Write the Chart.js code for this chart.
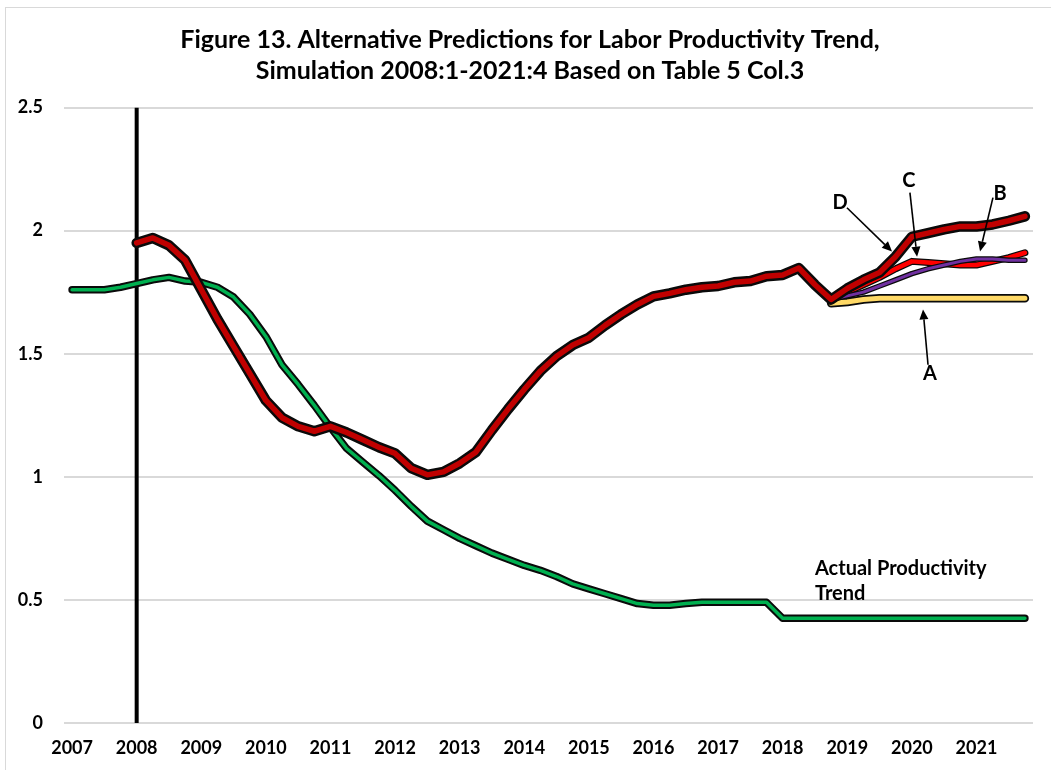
<!DOCTYPE html>
<html><head><meta charset="utf-8">
<script src="https://cdn.jsdelivr.net/npm/chart.js@4.4.1/dist/chart.umd.min.js"></script>
<style>
html,body{margin:0;padding:0;background:#fff;}
#wrap{position:relative;width:1051px;height:770px;overflow:hidden;background:#fff;}
#frame{position:absolute;left:5px;top:7px;width:1100px;height:800px;border:1px solid #d9d9d9;box-sizing:border-box;pointer-events:none;}
canvas{position:absolute;left:0;top:0;}
</style></head><body>
<div id="wrap"><canvas id="c" width="1051" height="770"></canvas><div id="frame"></div></div>
<script>
// ---------- DATA ----------
const years = [2007,2008,2009,2010,2011,2012,2013,2014,2015,2016,2017,2018,2019,2020,2021];
const quarters = [1,2,3,4];
const categories = years.flatMap(y => quarters.map(q => y + ':' + q));
const yTicks = [0, 0.5, 1, 1.5, 2, 2.5];

const titleLines = [
  'Figure 13. Alternative Predictions for Labor Productivity Trend,',
  'Simulation 2008:1-2021:4 Based on Table 5 Col.3'
];

// Actual productivity trend (green), 2007:1 - 2021:4
const actualTrend = [
  1.76, 1.76, 1.76, 1.77,
  1.785, 1.80, 1.81, 1.795,
  1.79, 1.77, 1.73, 1.66,
  1.57, 1.455, 1.375, 1.29,
  1.20, 1.115, 1.06, 1.005,
  0.945, 0.88, 0.82, 0.785,
  0.75, 0.72, 0.69, 0.665,
  0.64, 0.62, 0.595, 0.565,
  0.545, 0.525, 0.505, 0.485,
  0.478, 0.478, 0.485, 0.49,
  0.49, 0.49, 0.49, 0.49,
  0.425, 0.425, 0.425, 0.425,
  0.425, 0.425, 0.425, 0.425,
  0.425, 0.425, 0.425, 0.425,
  0.425, 0.425, 0.425, 0.425
];

// Simulation (thick red), prediction D after 2018:4
const simD = [
  null, null, null, null,
  1.95, 1.97, 1.94, 1.88,
  1.76, 1.64, 1.53, 1.42,
  1.31, 1.24, 1.205, 1.185,
  1.205, 1.18, 1.15, 1.12,
  1.095, 1.035, 1.008, 1.02,
  1.055, 1.10, 1.19, 1.275,
  1.355, 1.43, 1.49, 1.535,
  1.565, 1.615, 1.66, 1.70,
  1.733, 1.745, 1.76, 1.77,
  1.775, 1.79, 1.795, 1.815,
  1.82, 1.848, 1.78, 1.72,
  1.765, 1.80, 1.83, 1.895,
  1.975, 1.99, 2.005, 2.017,
  2.017, 2.025, 2.04, 2.058
];

const simC = [
  null,null,null,null, null,null,null,null, null,null,null,null,
  null,null,null,null, null,null,null,null, null,null,null,null,
  null,null,null,null, null,null,null,null, null,null,null,null,
  null,null,null,null, null,null,null,null, null,null,null, 1.72,
  1.75, 1.78, 1.81, 1.845,
  1.875, 1.87, 1.865, 1.86,
  1.86, 1.875, 1.89, 1.91
];

const simB = [
  null,null,null,null, null,null,null,null, null,null,null,null,
  null,null,null,null, null,null,null,null, null,null,null,null,
  null,null,null,null, null,null,null,null, null,null,null,null,
  null,null,null,null, null,null,null,null, null,null,null, 1.72,
  1.735, 1.75, 1.775, 1.80,
  1.825, 1.845, 1.86, 1.875,
  1.885, 1.885, 1.88, 1.88
];

const simA = [
  null,null,null,null, null,null,null,null, null,null,null,null,
  null,null,null,null, null,null,null,null, null,null,null,null,
  null,null,null,null, null,null,null,null, null,null,null,null,
  null,null,null,null, null,null,null,null, null,null,null, 1.705,
  1.71, 1.72, 1.725, 1.725,
  1.725, 1.725, 1.725, 1.725,
  1.725, 1.725, 1.725, 1.725
];

const breakCategory = '2008:1';
const breakRange = [0, 2.5];

// ---------- ANNOTATIONS (data coordinates: category index, value) ----------
const arrowNotes = [
  { text: 'A', at: [53.12, 1.42],  from: [53.0, 1.455], to: [52.69, 1.68] },
  { text: 'B', at: [57.46, 2.150], from: [57.02, 2.134], to: [56.22, 1.915] },
  { text: 'C', at: [51.82, 2.203], from: [51.88, 2.154], to: [52.32, 1.894] },
  { text: 'D', at: [47.55, 2.114], from: [47.98, 2.093], to: [50.77, 1.915] }
];
const trendNote = { lines: ['Actual Productivity', 'Trend'], at: [46.0, 0.626], lineGap: 0.102 };

const FONT = 'Lato, Calibri, "Open Sans", sans-serif';

function outlined(label, data, color, width, outlineWidth, order, join) {
  const base = { data, pointRadius: 0, pointHoverRadius: 0, tension: 0, spanGaps: false,
                 borderJoinStyle: join || 'round', borderCapStyle: 'round', fill: false };
  return [
    Object.assign({}, base, { label: label + ' outline', borderColor: '#0a0a0a', borderWidth: outlineWidth, order: order + 1 }),
    Object.assign({}, base, { label, borderColor: color, borderWidth: width, order })
  ];
}

const notesPlugin = {
  id: 'notes',
  afterLayout(chart) {
    // center the title on the chart frame (as in the original figure)
    const t = chart.titleBlock;
    if (t) { const shift = 530 - (t.left + t.right) / 2; t.left += shift; t.right += shift; }
  },
  afterDatasetsDraw(chart) {
    const { ctx, scales: { x, y } } = chart;
    const px = p => [x.getPixelForValue(p[0]), y.getPixelForValue(p[1])];
    ctx.save();
    ctx.fillStyle = '#000';
    ctx.strokeStyle = '#000';
    ctx.font = 'bold 20px ' + FONT;
    ctx.textAlign = 'center';
    ctx.textBaseline = 'middle';
    arrowNotes.forEach(n => {
      const [tx, ty] = px(n.at);
      ctx.fillText(n.text, tx, ty);
      const [x1, y1] = px(n.from);
      const [x2, y2] = px(n.to);
      const ang = Math.atan2(y2 - y1, x2 - x1);
      const hl = 10, hw = 4.5;
      const bx = x2 - hl * Math.cos(ang), by = y2 - hl * Math.sin(ang);
      ctx.lineWidth = 1.6;
      ctx.beginPath(); ctx.moveTo(x1, y1); ctx.lineTo(bx, by); ctx.stroke();
      ctx.beginPath();
      ctx.moveTo(x2, y2);
      ctx.lineTo(bx + hw * Math.sin(ang), by - hw * Math.cos(ang));
      ctx.lineTo(bx - hw * Math.sin(ang), by + hw * Math.cos(ang));
      ctx.closePath(); ctx.fill();
    });
    ctx.font = 'bold 20px ' + FONT;
    ctx.textAlign = 'left';
    trendNote.lines.forEach((t, i) => {
      const [tx, ty] = px([trendNote.at[0], trendNote.at[1] - i * trendNote.lineGap]);
      ctx.fillText(t, tx, ty);
    });
    ctx.restore();
  }
};

const datasets = [
  ...outlined('Actual Productivity Trend', actualTrend, '#00b050', 3.5, 7.5, 20, 'round'),
  ...outlined('A', simA, '#ffd966', 5, 8.5, 16),
  ...outlined('C', simC, '#ff0000', 4.5, 7, 12),
  ...outlined('B', simB, '#7030a0', 3, 5.5, 8),
  ...outlined('D', simD, '#c00000', 5.5, 10.5, 4),
  { label: 'break', data: breakRange.map(v => ({ x: breakCategory, y: v })), borderColor: '#000',
    borderWidth: 4, pointRadius: 0, order: 40, tension: 0 }
];

new Chart(document.getElementById('c'), {
  type: 'line',
  data: { labels: categories, datasets },
  options: {
    responsive: false,
    devicePixelRatio: 1,
    animation: false,
    events: [],
    layout: { padding: { left: 10, right: 18, top: 0, bottom: 0 } },
    plugins: {
      legend: { display: false },
      tooltip: { enabled: false },
      title: {
        display: true,
        text: titleLines,
        color: '#000',
        font: { family: FONT, size: 25, weight: 'bold', lineHeight: 1.25 },
        padding: { top: 24, bottom: 21 }
      }
    },
    scales: {
      x: {
        type: 'category',
        offset: true,
        grid: { display: false, drawTicks: false },
        border: { display: false },
        afterFit: s => { s.height = 47; },
        ticks: {
          autoSkip: false, maxRotation: 0, minRotation: 0, padding: 14,
          color: '#000',
          font: { family: FONT, size: 18, weight: 'bold' },
          callback: (v, i) => categories[i].endsWith(':1') ? categories[i].split(':')[0] : ''
        }
      },
      y: {
        min: yTicks[0], max: yTicks[yTicks.length - 1],
        afterBuildTicks: s => { s.ticks = yTicks.map(v => ({ value: v })); },
        afterFit: s => { s.width = 54; },
        grid: { color: '#d9d9d9', lineWidth: 2, drawTicks: false },
        border: { display: false },
        ticks: {
          padding: 21, color: '#000',
          font: { family: FONT, size: 18, weight: 'bold' },
          callback: v => String(v)
        }
      }
    }
  },
  plugins: [notesPlugin]
});
</script>
</body></html>
